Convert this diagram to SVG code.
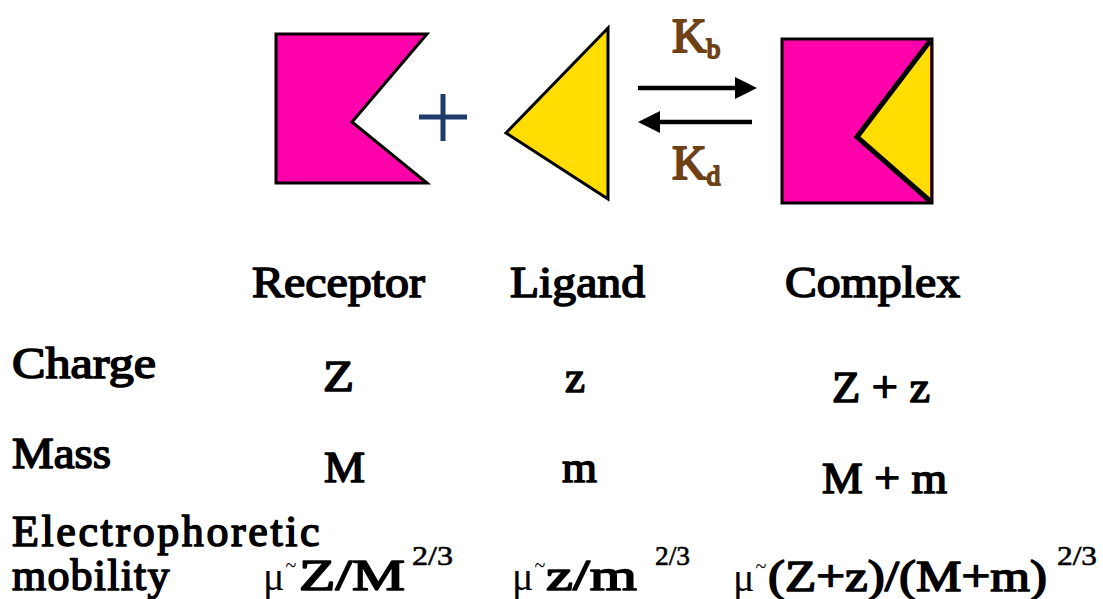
<svg xmlns="http://www.w3.org/2000/svg" width="1103" height="599" viewBox="0 0 1103 599">
<style>
  .t { font-family: "Liberation Serif", "Times New Roman", serif; font-weight: normal; font-size: 44px; fill: #000; stroke: #000; stroke-width: 1.6; stroke-linejoin: round; }
  .k { font-family: "Liberation Serif", "Times New Roman", serif; font-weight: normal; fill: #6E4216; stroke: #6E4216; stroke-width: 2; stroke-linejoin: round; }
  .mu { font-family: "Liberation Serif", "Times New Roman", serif; font-size: 40px; fill: #000; }
  .sup { font-family: "Liberation Serif", "Times New Roman", serif; font-size: 28px; fill: #000; stroke: #000; stroke-width: 0.6; }
  .mag { fill: #FF00AA; stroke: #000; stroke-width: 3; stroke-linejoin: miter; }
  .yel { fill: #FFDD00; stroke: #000; stroke-width: 3; }
  .arr { stroke: #000; stroke-width: 4.5; fill: none; }
</style>
<rect width="1103" height="599" fill="#fff"/>

<g id="receptor">
  <polygon class="mag" points="276,34 427,34 352,122 427,183 276,183"/>
</g>
<g id="plus">
  <path d="M419,117 H467 M443,94 V141" stroke="#1E3B6A" stroke-width="5" fill="none"/>
</g>
<g id="ligand">
  <polygon class="yel" points="608,28 506,133 608,199"/>
</g>
<g id="complex">
  <rect class="mag" x="782" y="39" width="150" height="164"/>
  <polygon points="930,41 857,137 930,201" fill="#FFDD00"/>
  <polyline points="930,41 857,137 930,201" fill="none" stroke="#000" stroke-width="5" stroke-linejoin="miter"/>
</g>

<g id="connectors">
  <line class="arr" x1="638" y1="88" x2="738" y2="88"/>
  <polygon points="735,77 757,88 735,99" fill="#000"/>
  <line class="arr" x1="752" y1="122" x2="657" y2="122"/>
  <polygon points="660,111 638,122 660,133" fill="#000"/>
</g>

<g id="rate-labels">
  <text class="k" x="672" y="52" font-size="48">K<tspan font-size="27" dy="6">b</tspan></text>
  <text class="k" x="672" y="179" font-size="48">K<tspan font-size="27" dy="6">d</tspan></text>
</g>

<g id="headers">
  <text class="t" x="252" y="297" textLength="173" lengthAdjust="spacingAndGlyphs">Receptor</text>
  <text class="t" x="510" y="297" textLength="135" lengthAdjust="spacingAndGlyphs">Ligand</text>
  <text class="t" x="785" y="297" textLength="175" lengthAdjust="spacingAndGlyphs">Complex</text>
</g>

<g id="row-charge">
  <text class="t" x="12" y="378" textLength="144" lengthAdjust="spacingAndGlyphs">Charge</text>
  <text class="t" x="323" y="391" textLength="31" lengthAdjust="spacingAndGlyphs">Z</text>
  <text class="t" x="565" y="392" textLength="20" lengthAdjust="spacingAndGlyphs">z</text>
  <text class="t" x="832" y="402" textLength="98" lengthAdjust="spacingAndGlyphs">Z + z</text>
</g>

<g id="row-mass">
  <text class="t" x="12" y="468" textLength="99" lengthAdjust="spacingAndGlyphs">Mass</text>
  <text class="t" x="324" y="482" textLength="41" lengthAdjust="spacingAndGlyphs">M</text>
  <text class="t" x="562" y="482" textLength="35" lengthAdjust="spacingAndGlyphs">m</text>
  <text class="t" x="822" y="493" textLength="125" lengthAdjust="spacingAndGlyphs">M + m</text>
</g>

<g id="row-mobility">
  <text class="t" font-size="44"><tspan x="12" y="546" letter-spacing="2.6">Electrophoretic</tspan><tspan x="12" y="590" letter-spacing="1.2">mobility</tspan></text>

  <text class="mu" x="263" y="590">μ<tspan font-size="20" dx="1" dy="-18">~</tspan></text>
  <text class="t" x="299" y="590" textLength="106" lengthAdjust="spacingAndGlyphs">Z/M</text>
  <text class="sup" x="412" y="565" textLength="41" lengthAdjust="spacingAndGlyphs">2/3</text>

  <text class="mu" x="512" y="590">μ<tspan font-size="20" dx="1" dy="-18">~</tspan></text>
  <text class="t" x="546" y="590" textLength="91" lengthAdjust="spacingAndGlyphs">z/m</text>
  <text class="sup" x="655" y="565" textLength="35" lengthAdjust="spacingAndGlyphs">2/3</text>

  <text class="mu" x="733" y="591">μ<tspan font-size="20" dx="1" dy="-18">~</tspan></text>
  <text class="t" x="768" y="591" textLength="279" lengthAdjust="spacingAndGlyphs">(Z+z)/(M+m)</text>
  <text class="sup" x="1057" y="565" textLength="40" lengthAdjust="spacingAndGlyphs">2/3</text>
</g>
</svg>
